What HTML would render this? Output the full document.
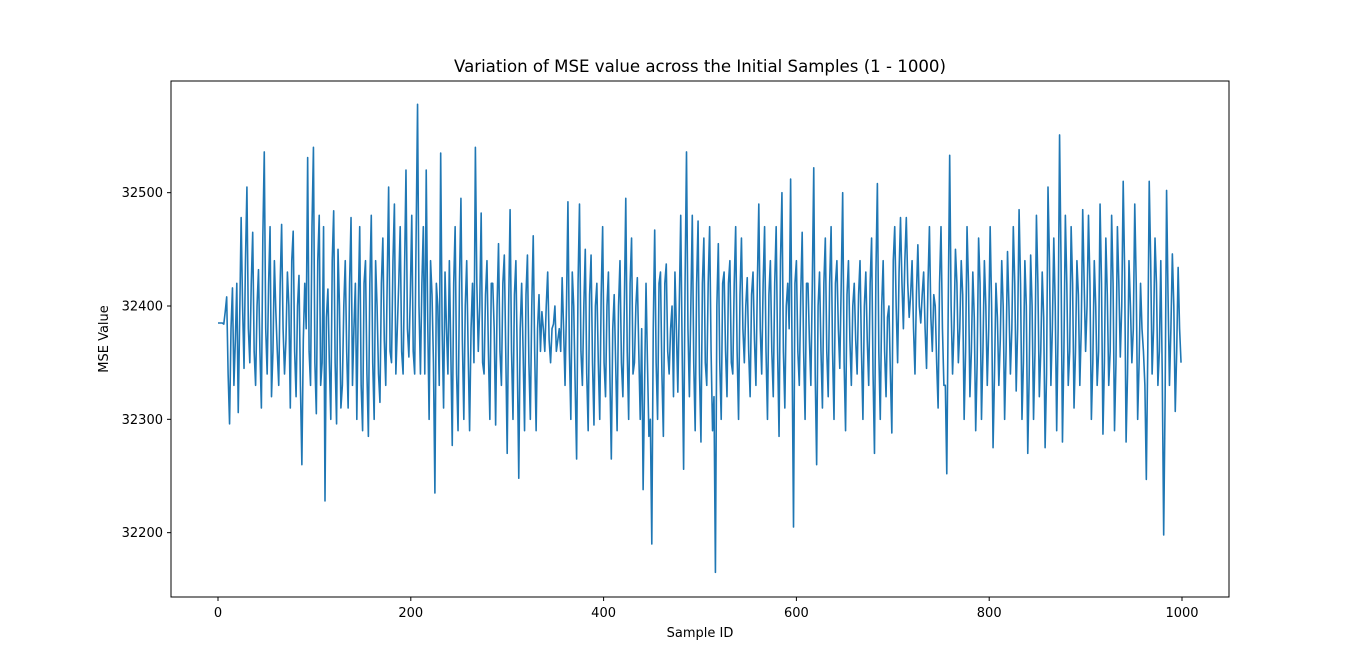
<!DOCTYPE html>
<html><head><meta charset="utf-8"><style>
html,body{margin:0;padding:0;background:#fff;}
svg{display:block;font-family:"DejaVu Sans","Liberation Sans",sans-serif;}
</style></head><body>
<svg id="chart" width="1366" height="671" viewBox="0 0 1366 671" xmlns="http://www.w3.org/2000/svg">
<rect x="0" y="0" width="1366" height="671" fill="#fff"/>
<text x="700" y="72" font-size="16.6" text-anchor="middle" fill="#000">Variation of MSE value across the Initial Samples (1 - 1000)</text>
<g id="plot"></g>
<rect x="171" y="81" width="1058" height="516" fill="none" stroke="#000" stroke-width="1"/>
<text x="700" y="637" font-size="13" text-anchor="middle">Sample ID</text>
<text transform="translate(108,339) rotate(-90)" font-size="13" text-anchor="middle">MSE Value</text>
</svg>
<script>
const xTicks=[0,200,400,600,800,1000];
const yTicks=[32200,32300,32400,32500];
const sampleStep=3;
// values at samples 0,3,6,...
const mseValues=[
32385,32385,32384,32408,32296,32416,32370,32306,32478,32345,
32505,32350,32465,32330,32432,32310,32536,32340,32470,32360,
32395,32330,32472,32340,32430,32310,32466,32320,32427,32260,
32420,32531,32330,32540,32305,32480,32350,32228,32415,32300,
32484,32296,32400,32330,32440,32310,32478,32380,32300,32470,
32290,32440,32285,32480,32300,32400,32315,32460,32330,32505,
32350,32490,32380,32470,32340,32520,32355,32480,32340,32578,
32340,32470,32520,32300,32410,32235,32400,32535,32310,32380,
32440,32277,32470,32290,32495,32300,32440,32290,32420,32540,
32360,32482,32340,32440,32300,32420,32295,32455,32330,32445,
32270,32485,32300,32440,32248,32420,32290,32445,32300,32462,
32290,32410,32395,32360,32430,32350,32384,32360,32380,32425,
32330,32492,32300,32400,32265,32490,32330,32450,32290,32445,
32295,32420,32300,32470,32320,32430,32265,32410,32290,32440,
32320,32495,32300,32460,32350,32425,32300,32238,32420,32285,
32190,32467,32300,32430,32285,32437,32340,32400,32430,32324,
32480,32256,32536,32320,32480,32290,32475,32280,32460,32330,
32470,32290,32165,32455,32300,32430,32320,32440,32340,32470,
32300,32460,32350,32425,32320,32430,32330,32490,32340,32470,
32300,32440,32320,32470,32285,32500,32310,32420,32512,32205,
32440,32330,32465,32300,32420,32330,32522,32260,32430,32310,
32460,32320,32470,32300,32440,32345,32500,32290,32440,32330,
32420,32340,32440,32300,32430,32330,32460,32270,32508,32300,
32440,32320,32400,32288,32470,32350,32478,32380,32478,32390,
32440,32340,32454,32385,32430,32345,32470,32360,32400,32310,
32470,32330,32252,32533,32340,32450,32350,32440,32300,32470,
32320,32430,32290,32460,32300,32440,32330,32470,32275,32420,
32330,32440,32300,32448,32340,32470,32325,32485,32300,32440,
32270,32445,32300,32480,32320,32430,32275,32505,32330,32460,
32290,32551,32280,32480,32330,32470,32310,32440,32330,32485,
32360,32480,32300,32440,32330,32490,32287,32460,32330,32480,
32290,32470,32355,32510,32280,32440,32350,32490,32300,32420,
32360,32247,32510,32340,32460,32330,32440,32198,32502,32330,
32446,32307,32434,32350
];
// values at samples 1.5,4.5,7.5,... (between the above)
const mseValuesMid=[
32385,32385,32395,32340,32380,32330,32420,32390,32400,32440,
32380,32420,32360,32400,32360,32460,32380,32420,32320,32440,
32360,32420,32380,32370,32400,32440,32360,32400,32330,32370,
32380,32360,32470,32350,32440,32330,32470,32390,32350,32440,
32350,32450,32310,32400,32360,32420,32330,32420,32400,32330,
32420,32340,32420,32350,32440,32340,32420,32370,32420,32360,
32440,32340,32420,32360,32430,32380,32410,32360,32460,32400,
32420,32340,32390,32440,32350,32420,32330,32380,32430,32340,
32360,32420,32340,32420,32370,32400,32360,32380,32350,32420,
32400,32350,32410,32360,32420,32380,32400,32360,32420,32360,
32400,32360,32410,32350,32380,32360,32410,32350,32400,32360,
32380,32360,32380,32400,32370,32380,32400,32370,32360,32380,
32400,32360,32430,32330,32420,32360,32400,32340,32410,32350,
32400,32350,32410,32350,32400,32340,32380,32350,32400,32350,
32400,32360,32420,32340,32400,32360,32380,32330,32350,32300,
32380,32350,32420,32340,32420,32360,32380,32320,32380,32400,
32360,32420,32380,32400,32350,32420,32340,32420,32350,32420,
32360,32320,32400,32350,32420,32360,32420,32350,32420,32360,
32410,32380,32400,32360,32410,32370,32420,32380,32420,32360,
32410,32360,32420,32360,32440,32360,32400,32380,32360,32420,
32360,32410,32360,32420,32370,32420,32340,32400,32360,32420,
32360,32420,32360,32420,32380,32420,32350,32410,32370,32400,
32370,32410,32360,32400,32370,32420,32340,32430,32360,32400,
32360,32390,32340,32440,32400,32430,32420,32440,32420,32410,
32380,32410,32400,32410,32380,32420,32390,32410,32350,32420,
32380,32330,32400,32400,32380,32420,32380,32410,32360,32420,
32360,32390,32350,32420,32360,32400,32380,32400,32340,32390,
32370,32400,32360,32400,32380,32420,32380,32420,32350,32400,
32340,32400,32360,32420,32360,32390,32340,32440,32380,32400,
32380,32440,32360,32420,32360,32420,32360,32410,32380,32420,
32400,32420,32350,32400,32360,32420,32350,32410,32360,32420,
32350,32420,32400,32430,32340,32400,32380,32420,32350,32380,
32330,32360,32440,32380,32420,32360,32340,32320,32410,32380,
32400,32360,32380
];
const NS="http://www.w3.org/2000/svg";
const g=document.getElementById('plot');
const xScale=v=>218+v*(1182-218)/1000;
const yScale=v=>306-(v-32400)*(113.33/100);
const pts=[];
mseValues.forEach((v,i)=>{
 pts.push([i*sampleStep,v]);
 if(i<mseValuesMid.length && i<mseValues.length-1) pts.push([i*sampleStep+sampleStep/2,mseValuesMid[i]]);
});
let d="";
pts.forEach((p,i)=>{d+=(i?"L":"M")+xScale(p[0]).toFixed(2)+","+yScale(p[1]).toFixed(2);});
const p=document.createElementNS(NS,'path');


p.setAttribute('d',d);p.setAttribute('fill','none');p.setAttribute('stroke','#1f77b4');p.setAttribute('stroke-width','1.6');p.setAttribute('stroke-linejoin','round');
g.appendChild(p);
xTicks.forEach(t=>{
 const x=xScale(t);
 const l=document.createElementNS(NS,'line');
 
 
 l.setAttribute('x1',x);l.setAttribute('x2',x);l.setAttribute('y1',597);l.setAttribute('y2',601);l.setAttribute('stroke','#000');
 g.appendChild(l);
 const tx=document.createElementNS(NS,'text');
 
 
 tx.setAttribute('x',x);tx.setAttribute('y',617);tx.setAttribute('font-size','13');tx.setAttribute('text-anchor','middle');
 tx.textContent=t;g.appendChild(tx);
});
yTicks.forEach(t=>{
 const y=yScale(t);
 const l=document.createElementNS(NS,'line');
 
 
 l.setAttribute('x1',167);l.setAttribute('x2',171);l.setAttribute('y1',y);l.setAttribute('y2',y);l.setAttribute('stroke','#000');
 g.appendChild(l);
 const tx=document.createElementNS(NS,'text');
 
 
 tx.setAttribute('x',163);tx.setAttribute('y',y+4.5);tx.setAttribute('font-size','13');tx.setAttribute('text-anchor','end');
 tx.textContent=t;g.appendChild(tx);
});
</script>
</body></html>
